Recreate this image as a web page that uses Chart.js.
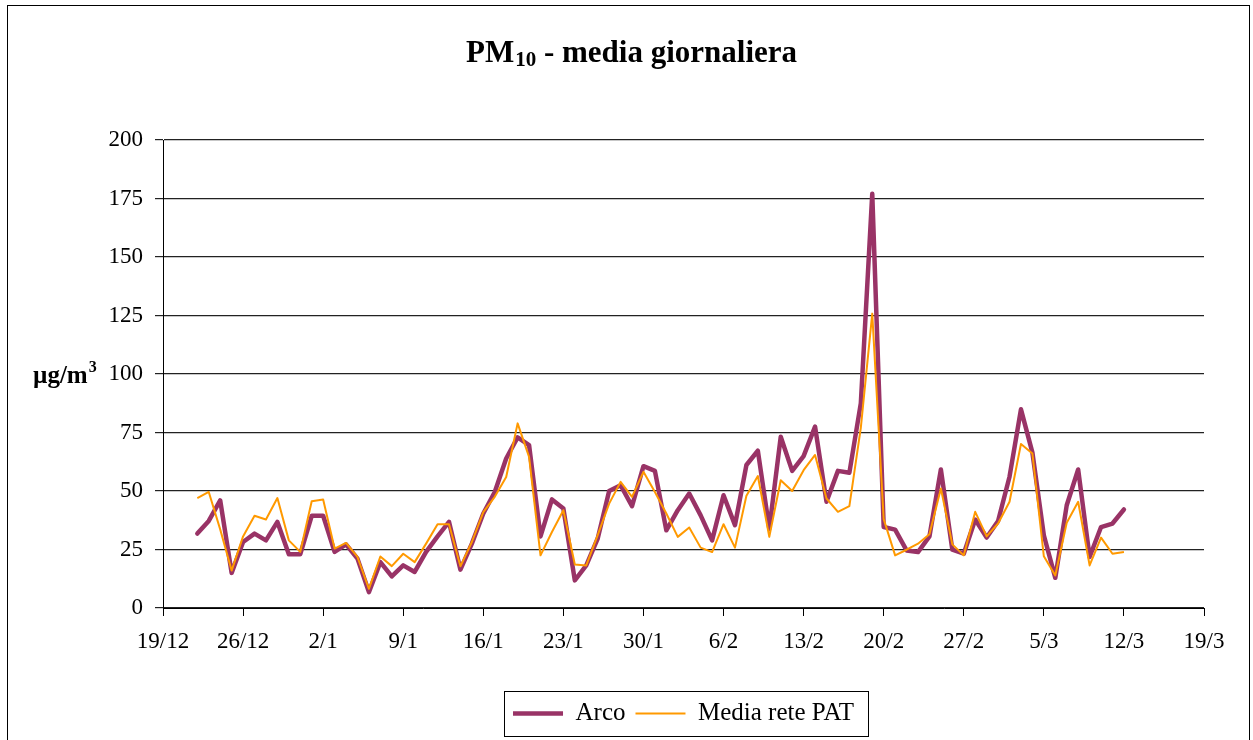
<!DOCTYPE html>
<html>
<head>
<meta charset="utf-8">
<script src="https://cdn.jsdelivr.net/npm/chart.js@4.4.0/dist/chart.umd.min.js"></script>
<style>
  html, body { margin: 0; padding: 0; background: #fff; }
</style>
</head>
<body>
<canvas id="myChart" width="1253" height="740"></canvas>
<script>
// x = days counted from 19/12, first value is 22/12
const firstDay = 3;
const tickLabels = ['19/12', '26/12', '2/1', '9/1', '16/1', '23/1', '30/1', '6/2', '13/2', '20/2', '27/2', '5/3', '12/3', '19/3'];

const arco = [
  31.8, 37.2, 46, 15, 28.2, 31.8, 28.9, 36.8, 23, 23,
  39.4, 39.4, 24, 27.2, 21.1, 6.8, 19.6, 13.5, 18.2, 15.4,
  24, 30.6, 36.8, 16.4, 27.5, 40.4, 49.6, 63.9, 72.9, 69.6,
  30.6, 46.4, 42.5, 11.8, 18.2, 29.7, 50, 52.5, 43.5, 60.6,
  58.6, 33.2, 41.8, 48.9, 39.6, 28.9, 48.2, 35.4, 61.1, 67.2,
  33.9, 73.2, 58.6, 64.9, 77.5, 45.4, 58.6, 57.8, 87.5, 177,
  34.6, 33.5, 24.6, 23.9, 30.6, 59.2, 24.9, 23.2, 37.8, 30.1,
  37.2, 56.1, 84.9, 66.4, 31.1, 12.9, 43.9, 59.2, 21.8, 34.6,
  36.1, 42.1
];

const mediaPAT = [
  47, 49.6, 33.6, 16, 30.6, 39.4, 37.8, 47, 28.9, 24,
  45.6, 46.4, 25.4, 27.8, 21.8, 8.2, 22, 17.9, 23.2, 19.6,
  27.5, 35.8, 35.8, 17.8, 28.2, 41, 47.5, 56, 78.9, 64.6,
  22.5, 32.5, 41.8, 18.6, 18.2, 31.1, 44.6, 53.9, 47.5, 58.2,
  49.6, 40.4, 30.4, 34.4, 25.8, 23.9, 35.8, 25.8, 48, 56.4,
  30.4, 54.6, 50, 58.9, 65.4, 46.8, 41.1, 43.5, 77, 125.8,
  38, 22.5, 24.9, 27.5, 31.5, 51.1, 27.2, 22.5, 41.1, 30.6,
  36.1, 45.4, 70.1, 66, 22.1, 13.9, 36.4, 45.4, 18.2, 30.1,
  23.2, 23.9
];

function toPoints(values) {
  return values.map((v, i) => ({ x: firstDay + i, y: v }));
}

const serif = "'Liberation Serif', 'Times New Roman', serif";

// white page, outer frame, title and unit text
const decorations = {
  id: 'decorations',
  beforeDraw(chart) {
    const ctx = chart.ctx;
    ctx.save();
    ctx.fillStyle = '#fff';
    ctx.fillRect(0, 0, chart.width, chart.height);
    ctx.strokeStyle = '#000';
    ctx.lineWidth = 1;
    ctx.strokeRect(7.5, 5.5, 1242, 800);
    ctx.restore();
  },
  afterDraw(chart) {
    const ctx = chart.ctx;
    ctx.save();
    ctx.fillStyle = '#000';
    ctx.textBaseline = 'alphabetic';
    ctx.textAlign = 'left';

    // title with subscript
    const big = 'bold 31px ' + serif;
    const small = 'bold 21px ' + serif;
    ctx.font = big;
    const w1 = ctx.measureText('PM').width;
    const w3 = ctx.measureText(' - media giornaliera').width;
    ctx.font = small;
    const w2 = ctx.measureText('10').width;
    let x = 631 - (w1 + w2 + w3) / 2;
    const y = 62;
    ctx.font = big;
    ctx.fillText('PM', x, y);
    ctx.font = small;
    ctx.fillText('10', x + w1 + 1, y + 4);
    ctx.font = big;
    ctx.fillText(' - media giornaliera', x + w1 + w2 + 1, y);

    // unit with superscript
    ctx.font = 'bold 25px ' + serif;
    ctx.fillText('\u00b5g/m', 33, 383);
    const wu = ctx.measureText('\u00b5g/m').width;
    ctx.font = 'bold 16px ' + serif;
    ctx.fillText('3', 33 + wu + 1, 372);

    // legend frame
    const boxes = chart.legend.legendHitBoxes;
    if (boxes && boxes.length) {
      const first = boxes[0];
      const last = boxes[boxes.length - 1];
      const left = first.left - 9;
      const right = last.left + last.width + 14;
      const top = first.top - 10;
      const bottom = first.top + first.height + 10;
      ctx.strokeStyle = '#000';
      ctx.lineWidth = 1;
      ctx.strokeRect(Math.round(left) + 0.5, Math.round(top) + 0.5, Math.round(right - left), Math.round(bottom - top));
    }
    ctx.restore();
  }
};

const ctx = document.getElementById('myChart');

const myChart = new Chart(ctx, {
  type: 'line',
  data: {
    datasets: [
      {
        label: 'Arco',
        data: toPoints(arco),
        borderColor: '#993366',
        backgroundColor: '#993366',
        borderWidth: 4.5,
        borderJoinStyle: 'round',
        borderCapStyle: 'round',
        pointRadius: 0,
        tension: 0,
        order: 1
      },
      {
        label: 'Media rete PAT',
        data: toPoints(mediaPAT),
        borderColor: '#FF9900',
        backgroundColor: '#FF9900',
        borderWidth: 2,
        borderJoinStyle: 'round',
        pointRadius: 0,
        tension: 0,
        order: 0
      }
    ]
  },
  options: {
    responsive: false,
    animation: false,
    layout: { padding: { top: 140, right: 49, bottom: 4, left: 0 } },
    plugins: {
      title: { display: false },
      tooltip: { enabled: false },
      legend: {
        position: 'bottom',
        fullSize: false,
        labels: {
          usePointStyle: true,
          pointStyle: 'line',
          pointStyleWidth: 50,
          padding: 10,
          color: '#000',
          font: { family: serif, size: 25 },
          sort: (a, b) => a.datasetIndex - b.datasetIndex
        }
      }
    },
    scales: {
      x: {
        type: 'linear',
        min: 0,
        max: 91,
        afterFit(scale) { scale.height = 83; },
        ticks: {
          stepSize: 7,
          autoSkip: false,
          maxRotation: 0,
          padding: 12,
          color: '#000',
          font: { family: serif, size: 23 },
          callback: (v) => tickLabels[v / 7]
        },
        grid: {
          drawOnChartArea: false,
          drawTicks: true,
          tickLength: 8,
          color: '#000'
        },
        border: { display: true, color: '#000', width: 1 }
      },
      y: {
        min: 0,
        max: 200,
        afterFit(scale) { scale.width = 163; },
        ticks: {
          stepSize: 25,
          padding: 12,
          color: '#000',
          font: { family: serif, size: 23 }
        },
        grid: {
          color: '#222',
          lineWidth: 1.2,
          drawTicks: true,
          tickLength: 8
        },
        border: { display: true, color: '#000', width: 1 }
      }
    }
  },
  plugins: [decorations]
});
</script>
</body>
</html>
